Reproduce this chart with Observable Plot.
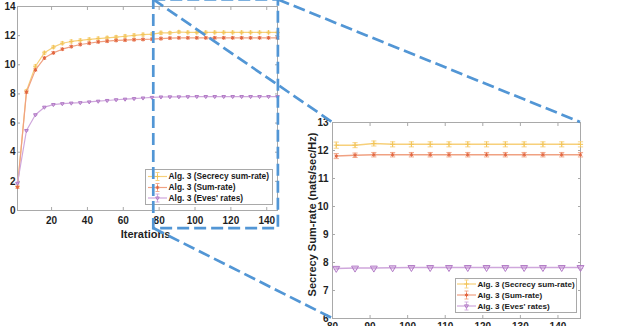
<!DOCTYPE html>
<html><head><meta charset="utf-8">
<script src="https://cdn.jsdelivr.net/npm/d3@7"></script>
<script src="https://cdn.jsdelivr.net/npm/@observablehq/plot@0.6"></script>
<style>
body{margin:0;background:#fff;}
#wrap{position:relative;width:618px;height:326px;overflow:hidden;}
#wrap svg{position:absolute;left:0;top:0;}
</style></head><body><div id="wrap"></div>
<script>
// ---- data ----
const iterations = [1,6,11,16,21,26,31,36,41,46,51,56,61,66,71,76,81,86,91,96,101,106,111,116,121,126,131,136,141,146];
const secrecySumRate = [1.65,8.2,9.9,10.82,11.21,11.48,11.6,11.67,11.74,11.8,11.85,11.9,11.96,12.02,12.07,12.1,12.19,12.19,12.25,12.22,12.22,12.22,12.22,12.22,12.22,12.22,12.22,12.22,12.22,12.22];
const secrecyErr = [0.1,0.1,0.1,0.1,0.1,0.1,0.1,0.1,0.1,0.1,0.1,0.1,0.1,0.1,0.1,0.1,0.11,0.09,0.09,0.09,0.09,0.09,0.09,0.09,0.09,0.09,0.09,0.09,0.09,0.09];
const sumRate = [1.6,8.12,9.65,10.46,10.82,11.07,11.25,11.39,11.48,11.57,11.62,11.67,11.69,11.72,11.74,11.76,11.8,11.83,11.85,11.85,11.85,11.85,11.85,11.85,11.85,11.85,11.85,11.85,11.85,11.85];
const sumErr = [0.08,0.08,0.08,0.08,0.08,0.08,0.08,0.08,0.08,0.08,0.08,0.08,0.08,0.08,0.08,0.08,0.09,0.08,0.08,0.08,0.08,0.08,0.08,0.08,0.08,0.08,0.08,0.08,0.08,0.08];
const evesRate = [1.87,5.49,6.57,7.09,7.27,7.33,7.37,7.4,7.45,7.5,7.55,7.6,7.64,7.68,7.72,7.76,7.79,7.8,7.8,7.81,7.82,7.82,7.82,7.82,7.82,7.82,7.82,7.82,7.82,7.82];
const evesErr = [0.03,0.03,0.03,0.03,0.03,0.03,0.03,0.03,0.03,0.03,0.03,0.03,0.03,0.03,0.03,0.03,0.03,0.03,0.03,0.03,0.03,0.03,0.03,0.03,0.03,0.03,0.03,0.03,0.03,0.03];
const seriesNames = ["Alg. 3 (Secrecy sum-rate)", "Alg. 3 (Sum-rate)", "Alg. 3 (Eves' rates)"];
const mainXDomain = [1, 146];
const mainYDomain = [0, 14];
const mainXTicks = [20,40,60,80,100,120,140];
const mainYTicks = [0,2,4,6,8,10,12,14];
const zoomXDomain = [80, 146];
const zoomYDomain = [6, 13];
const zoomXTicks = [80,90,100,110,120,130,140];
const zoomYTicks = [6,7,8,9,10,11,12,13];
const zoomBoxX = [77, 146.5];
const zoomBoxY = [-1.24, 14.45];
const xLabel = "Iterations";
const zoomYLabel = "Secrecy Sum-rate (nats/sec/Hz)";

// ---- styles ----
const FONT = "Liberation Sans, Arial, Helvetica, sans-serif";
const GRAY = "#a9a9a9", DARK = "#1f1f1f", BLUE = "#5296d5";
const S = [
  {key:"sec", err:"secErr", line:"#f7d07a", mark:"#f2c457", symbol:"plus"},
  {key:"sum", err:"sumErr", line:"#f0a182", mark:"#e2643e", symbol:"asterisk"},
  {key:"eve", err:"eveErr", line:"#cfa7dc", mark:"#b27ac6", symbol:"triangle2"}
];
const rows = iterations.map((it,i)=>({it, sec:secrecySumRate[i], secErr:secrecyErr[i], sum:sumRate[i], sumErr:sumErr[i], eve:evesRate[i], eveErr:evesErr[i]}));
const hline = {draw(ctx, size){ const r = Math.sqrt(size/Math.PI); ctx.moveTo(-r,0); ctx.lineTo(r,0); }};

function seriesMarks(data, s, o){
  const lo = d => d[s.key]-d[s.err], hi = d => d[s.key]+d[s.err];
  return [
    Plot.line(data, {x:"it", y:s.key, stroke:s.line, strokeWidth:o.lw}),
    Plot.ruleX(data, {x:"it", y1:lo, y2:hi, stroke:s.line, strokeWidth:0.9}),
    Plot.dot(data, {x:"it", y:lo, symbol:hline, r:o.cap, stroke:s.line, fill:"none", strokeWidth:0.9}),
    Plot.dot(data, {x:"it", y:hi, symbol:hline, r:o.cap, stroke:s.line, fill:"none", strokeWidth:0.9}),
    Plot.dot(data, {x:"it", y:s.key, symbol:s.symbol, r:o.r[s.key], rotate: s.symbol==="triangle2"?180:0, stroke:s.mark, fill:"none", strokeWidth:1})
  ];
}
function axes(xt, yt, xPad, yPad){
  return [
    Plot.axisX({ticks:xt, tickFormat:"d", anchor:"bottom", tickSize:0, tickPadding:xPad, label:null, fill:DARK, fontWeight:"bold"}),
    Plot.axisX({ticks:xt, anchor:"bottom", tickSize:3, dy:-3, fill:"none", stroke:GRAY, label:null}),
    Plot.axisX({ticks:xt, anchor:"top", tickSize:3, dy:3, fill:"none", stroke:GRAY, label:null}),
    Plot.axisY({ticks:yt, tickFormat:"d", anchor:"left", tickSize:0, tickPadding:yPad, label:null, fill:DARK, fontWeight:"bold"}),
    Plot.axisY({ticks:yt, anchor:"left", tickSize:3, dx:3, fill:"none", stroke:GRAY, label:null}),
    Plot.axisY({ticks:yt, anchor:"right", tickSize:3, dx:-3, fill:"none", stroke:GRAY, label:null})
  ];
}
const style = {fontFamily:FONT, fontSize:"10px", background:"transparent", color:DARK};

const mainPlot = Plot.plot({
  width:618, height:326, marginLeft:17, marginRight:341, marginTop:6, marginBottom:116,
  style,
  x:{domain:mainXDomain}, y:{domain:mainYDomain},
  marks:[
    Plot.frame({stroke:GRAY}),
    ...axes(mainXTicks, mainYTicks, 6, 2),
    ...S.flatMap(s => seriesMarks(rows, s, {lw:1.2, cap:1.8, r:{sec:1.6, sum:1.8, eve:1.7}})),
    Plot.text([xLabel], {text:d=>d, frameAnchor:"bottom", dy:27, dx:-2, lineAnchor:"bottom", fontSize:11, fontWeight:"bold", fill:DARK})
  ]
});
const zrows = rows.filter(d => d.it >= zoomXDomain[0]);
const zoomPlot = Plot.plot({
  width:618, height:326, marginLeft:332, marginRight:38, marginTop:122, marginBottom:8,
  style,
  x:{domain:zoomXDomain}, y:{domain:zoomYDomain},
  marks:[
    Plot.frame({stroke:GRAY, fill:"white"}),
    ...axes(zoomXTicks, zoomYTicks, 4, 4),
    ...S.flatMap(s => seriesMarks(zrows, s, {lw:1.5, cap:2.6, r:{sec:1.8, sum:1.8, eve:3.3}})),
    Plot.text([zoomYLabel], {text:d=>d, frameAnchor:"left", rotate:-90, textAnchor:"middle", dx:-17, dy:-6, lineAnchor:"bottom", fontSize:11, fontWeight:"bold", fill:DARK})
  ]
});

const wrap = document.getElementById("wrap");
wrap.appendChild(mainPlot);
wrap.appendChild(zoomPlot);

// ---- overlay: legends and zoom connectors, positioned via the plots' scales ----
const mx = mainPlot.scale("x"), my = mainPlot.scale("y");
const zx = zoomPlot.scale("x"), zy = zoomPlot.scale("y");
const ov = d3.create("svg").attr("width",618).attr("height",326).style("font-family",FONT);

function legend(x0, y0, w, h, rowYs, lineX0, lineX1, fs, sizes){
  const g = ov.append("g");
  g.append("rect").attr("x",x0+0.5).attr("y",y0+0.5).attr("width",w).attr("height",h).attr("fill","white").attr("stroke",GRAY);
  S.forEach((s,i)=>{
    const y = rowYs[i], cx = (lineX0+lineX1)/2;
    g.append("line").attr("x1",lineX0).attr("x2",lineX1).attr("y1",y).attr("y2",y).attr("stroke",s.line).attr("stroke-width",1.2);
    g.append("line").attr("x1",cx).attr("x2",cx).attr("y1",y-4).attr("y2",y+4).attr("stroke",s.line).attr("stroke-width",0.9);
    [y-4,y+4].forEach(yy=>g.append("line").attr("x1",cx-2).attr("x2",cx+2).attr("y1",yy).attr("y2",yy).attr("stroke",s.line).attr("stroke-width",0.9));
    const type = {plus:d3.symbolPlus, asterisk:d3.symbolAsterisk, triangle2:d3.symbolTriangle2}[s.symbol];
    const r = sizes[i];
    g.append("path").attr("d", d3.symbol(type, Math.PI*r*r)()).attr("transform",`translate(${cx},${y}) rotate(${s.symbol==="triangle2"?180:0})`)
      .attr("fill","none").attr("stroke",s.mark);
    g.append("text").attr("x",lineX1+1.5).attr("y",y).attr("dy","0.35em").attr("font-size",fs).attr("font-weight","bold").attr("fill","#1a1a1a").text(seriesNames[i]);
  });
}
legend(145, 169, 127, 35, [176.5,187.5,198], 148, 167, 8.4, [1.6,1.8,1.7]);
legend(455, 278, 121, 34, [284,295,306], 457, 476, 8.1, [1.6,1.8,1.9]);

const bx1 = mx.apply(zoomBoxX[0]), bx2 = mx.apply(zoomBoxX[1]);
const byT = my.apply(zoomBoxY[1]), byB = my.apply(zoomBoxY[0]);
const zL = zx.apply(zoomXDomain[0]), zR = zx.apply(zoomXDomain[1]);
const zT = zy.apply(zoomYDomain[1]), zB = zy.apply(zoomYDomain[0]);
const dash = {stroke:BLUE, "stroke-width":2.7, "stroke-dasharray":"12 5", fill:"none"};
const el = (tag, attrs) => { const e = ov.append(tag); Object.entries(attrs).forEach(([k,v])=>e.attr(k,v)); return e; };
el("rect", {x:bx1, y:byT, width:bx2-bx1, height:byB-byT, ...dash});
el("line", {x1:bx1, y1:byT, x2:zL, y2:zT, ...dash});
el("line", {x1:bx2, y1:byT, x2:zR, y2:zT, ...dash});
el("line", {x1:bx1, y1:byB, x2:zL, y2:zB, ...dash});
wrap.appendChild(ov.node());
</script></body></html>
